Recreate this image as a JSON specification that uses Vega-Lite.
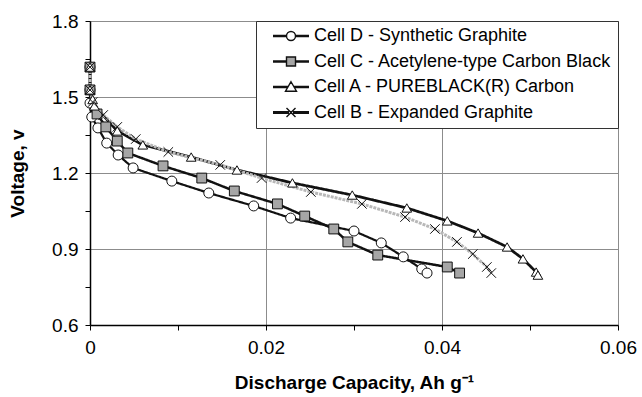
{
  "$schema": "https://vega.github.io/schema/vega-lite/v6.json",
  "width": 528,
  "height": 304,
  "autosize": {"type": "none"},
  "padding": {"left": 90, "top": 21, "right": 24, "bottom": 72},
  "config": {
    "font": "Liberation Sans",
    "view": {"stroke": null},
    "axis": {
      "labelFontSize": 19,
      "labelColor": "black",
      "titleColor": "black",
      "titleFontSize": 19,
      "titleFontWeight": "bold",
      "domainColor": "black",
      "domainWidth": 1.5,
      "tickColor": "black",
      "tickWidth": 1,
      "tickSize": 5,
      "gridColor": "#8c8c8c",
      "gridWidth": 1,
      "labelOverlap": false,
      "labelFlush": false
    }
  },
  "data": {
    "values": [
      {"s": "Cell D - Synthetic Graphite", "x": 0, "v": 1.618},
      {"s": "Cell D - Synthetic Graphite", "x": 0, "v": 1.528},
      {"s": "Cell D - Synthetic Graphite", "x": 0, "v": 1.476},
      {"s": "Cell D - Synthetic Graphite", "x": 0.0002, "v": 1.421},
      {"s": "Cell D - Synthetic Graphite", "x": 0.0009, "v": 1.378},
      {"s": "Cell D - Synthetic Graphite", "x": 0.0019, "v": 1.318},
      {"s": "Cell D - Synthetic Graphite", "x": 0.0032, "v": 1.271},
      {"s": "Cell D - Synthetic Graphite", "x": 0.0049, "v": 1.22},
      {"s": "Cell D - Synthetic Graphite", "x": 0.0093, "v": 1.168},
      {"s": "Cell D - Synthetic Graphite", "x": 0.0135, "v": 1.121},
      {"s": "Cell D - Synthetic Graphite", "x": 0.0186, "v": 1.07},
      {"s": "Cell D - Synthetic Graphite", "x": 0.0228, "v": 1.022},
      {"s": "Cell D - Synthetic Graphite", "x": 0.03, "v": 0.971},
      {"s": "Cell D - Synthetic Graphite", "x": 0.0331, "v": 0.924},
      {"s": "Cell D - Synthetic Graphite", "x": 0.0356, "v": 0.869},
      {"s": "Cell D - Synthetic Graphite", "x": 0.0377, "v": 0.821},
      {"s": "Cell D - Synthetic Graphite", "x": 0.0383, "v": 0.805},
      {"s": "Cell C - Acetylene-type Carbon Black", "x": 0, "v": 1.618},
      {"s": "Cell C - Acetylene-type Carbon Black", "x": 0, "v": 1.528},
      {"s": "Cell C - Acetylene-type Carbon Black", "x": 0.0008, "v": 1.433},
      {"s": "Cell C - Acetylene-type Carbon Black", "x": 0.0018, "v": 1.382},
      {"s": "Cell C - Acetylene-type Carbon Black", "x": 0.0031, "v": 1.326},
      {"s": "Cell C - Acetylene-type Carbon Black", "x": 0.0043, "v": 1.279},
      {"s": "Cell C - Acetylene-type Carbon Black", "x": 0.0083, "v": 1.228},
      {"s": "Cell C - Acetylene-type Carbon Black", "x": 0.0127, "v": 1.18},
      {"s": "Cell C - Acetylene-type Carbon Black", "x": 0.0164, "v": 1.129},
      {"s": "Cell C - Acetylene-type Carbon Black", "x": 0.0213, "v": 1.078},
      {"s": "Cell C - Acetylene-type Carbon Black", "x": 0.0244, "v": 1.03},
      {"s": "Cell C - Acetylene-type Carbon Black", "x": 0.0277, "v": 0.979},
      {"s": "Cell C - Acetylene-type Carbon Black", "x": 0.0293, "v": 0.928},
      {"s": "Cell C - Acetylene-type Carbon Black", "x": 0.0327, "v": 0.876},
      {"s": "Cell C - Acetylene-type Carbon Black", "x": 0.0406, "v": 0.829},
      {"s": "Cell C - Acetylene-type Carbon Black", "x": 0.042, "v": 0.805},
      {"s": "Cell A - PUREBLACK(R) Carbon", "x": 0, "v": 1.618},
      {"s": "Cell A - PUREBLACK(R) Carbon", "x": 0, "v": 1.528},
      {"s": "Cell A - PUREBLACK(R) Carbon", "x": 0.0003, "v": 1.49},
      {"s": "Cell A - PUREBLACK(R) Carbon", "x": 0.0005, "v": 1.465},
      {"s": "Cell A - PUREBLACK(R) Carbon", "x": 0.0031, "v": 1.366},
      {"s": "Cell A - PUREBLACK(R) Carbon", "x": 0.006, "v": 1.311},
      {"s": "Cell A - PUREBLACK(R) Carbon", "x": 0.0115, "v": 1.263},
      {"s": "Cell A - PUREBLACK(R) Carbon", "x": 0.0167, "v": 1.212},
      {"s": "Cell A - PUREBLACK(R) Carbon", "x": 0.023, "v": 1.161},
      {"s": "Cell A - PUREBLACK(R) Carbon", "x": 0.0298, "v": 1.113},
      {"s": "Cell A - PUREBLACK(R) Carbon", "x": 0.036, "v": 1.062},
      {"s": "Cell A - PUREBLACK(R) Carbon", "x": 0.0406, "v": 1.011},
      {"s": "Cell A - PUREBLACK(R) Carbon", "x": 0.0441, "v": 0.963},
      {"s": "Cell A - PUREBLACK(R) Carbon", "x": 0.0474, "v": 0.908},
      {"s": "Cell A - PUREBLACK(R) Carbon", "x": 0.0492, "v": 0.861},
      {"s": "Cell A - PUREBLACK(R) Carbon", "x": 0.0507, "v": 0.809},
      {"s": "Cell A - PUREBLACK(R) Carbon", "x": 0.0509, "v": 0.797},
      {"s": "Cell B - Expanded Graphite", "x": 0, "v": 1.618},
      {"s": "Cell B - Expanded Graphite", "x": 0, "v": 1.528},
      {"s": "Cell B - Expanded Graphite", "x": 0.0003, "v": 1.48},
      {"s": "Cell B - Expanded Graphite", "x": 0.0015, "v": 1.429},
      {"s": "Cell B - Expanded Graphite", "x": 0.0031, "v": 1.382},
      {"s": "Cell B - Expanded Graphite", "x": 0.0052, "v": 1.334},
      {"s": "Cell B - Expanded Graphite", "x": 0.0089, "v": 1.283},
      {"s": "Cell B - Expanded Graphite", "x": 0.0148, "v": 1.232},
      {"s": "Cell B - Expanded Graphite", "x": 0.0195, "v": 1.18},
      {"s": "Cell B - Expanded Graphite", "x": 0.0251, "v": 1.125},
      {"s": "Cell B - Expanded Graphite", "x": 0.0309, "v": 1.078},
      {"s": "Cell B - Expanded Graphite", "x": 0.0358, "v": 1.026},
      {"s": "Cell B - Expanded Graphite", "x": 0.0392, "v": 0.979},
      {"s": "Cell B - Expanded Graphite", "x": 0.0417, "v": 0.928},
      {"s": "Cell B - Expanded Graphite", "x": 0.0435, "v": 0.88},
      {"s": "Cell B - Expanded Graphite", "x": 0.0451, "v": 0.829},
      {"s": "Cell B - Expanded Graphite", "x": 0.0456, "v": 0.805}
    ]
  },
  "encoding": {
    "x": {
      "field": "x",
      "type": "quantitative",
      "scale": {"domain": [0, 0.06], "nice": false, "zero": false},
      "axis": {
        "title": "Discharge Capacity, Ah g⁻¹",
        "values": [0, 0.01, 0.02, 0.03, 0.04, 0.05, 0.06],
        "labelExpr": "round(datum.value * 100) % 2 == 0 ? format(datum.value, '~g') : ''",
        "gridOpacity": {"condition": {"test": "round(datum.value * 100) % 2 == 0", "value": 1}, "value": 0},
        "labelPadding": 8,
        "titlePadding": 16
      }
    },
    "y": {
      "field": "v",
      "type": "quantitative",
      "scale": {"domain": [0.6, 1.8], "nice": false, "zero": false},
      "axis": {
        "title": "Voltage, v",
        "values": [0.6, 0.75, 0.9, 1.05, 1.2, 1.35, 1.5, 1.65, 1.8],
        "labelExpr": "round(datum.value / 0.15) % 2 == 0 ? format(datum.value, '.1f') : ''",
        "gridOpacity": {"condition": {"test": "round(datum.value / 0.15) % 2 == 0", "value": 1}, "value": 0},
        "labelPadding": 7,
        "titlePadding": 24
      }
    }
  },
  "resolve": {"scale": {"shape": "independent", "fill": "independent", "stroke": "independent"}},
  "layer": [
    {
      "mark": {"type": "line", "strokeCap": "butt"},
      "encoding": {
        "detail": {"field": "s"},
        "order": {"field": "v", "sort": "descending"},
        "stroke": {
          "field": "s",
          "type": "nominal",
          "scale": {
            "domain": ["Cell D - Synthetic Graphite", "Cell C - Acetylene-type Carbon Black", "Cell A - PUREBLACK(R) Carbon", "Cell B - Expanded Graphite"],
            "range": ["#111111", "#111111", "#111111", "#b8b8b8"]
          },
          "legend": null
        },
        "strokeWidth": {
          "field": "s",
          "type": "nominal",
          "scale": {
            "domain": ["Cell D - Synthetic Graphite", "Cell C - Acetylene-type Carbon Black", "Cell A - PUREBLACK(R) Carbon", "Cell B - Expanded Graphite"],
            "range": [2.2, 3, 3, 3.8]
          },
          "legend": null
        },
        "strokeDash": {
          "field": "s",
          "type": "nominal",
          "scale": {
            "domain": ["Cell D - Synthetic Graphite", "Cell C - Acetylene-type Carbon Black", "Cell A - PUREBLACK(R) Carbon", "Cell B - Expanded Graphite"],
            "range": [[1, 0], [1, 0], [1, 0], [3, 1]]
          },
          "legend": null
        }
      }
    },
    {
      "mark": {"type": "point", "filled": true, "stroke": "#111111", "strokeWidth": 1, "opacity": 1},
      "encoding": {
        "shape": {
          "field": "s",
          "type": "nominal",
          "scale": {
            "domain": ["Cell D - Synthetic Graphite", "Cell C - Acetylene-type Carbon Black", "Cell A - PUREBLACK(R) Carbon", "Cell B - Expanded Graphite"],
            "range": ["circle", "square", "triangle-up", "M-1,-1L1,1M-1,1L1,-1"]
          },
          "legend": null
        },
        "fill": {
          "field": "s",
          "type": "nominal",
          "scale": {
            "domain": ["Cell D - Synthetic Graphite", "Cell C - Acetylene-type Carbon Black", "Cell A - PUREBLACK(R) Carbon", "Cell B - Expanded Graphite"],
            "range": ["white", "#a6a6a6", "white", "transparent"]
          },
          "legend": null
        },
        "size": {
          "field": "s",
          "type": "nominal",
          "scale": {
            "domain": ["Cell D - Synthetic Graphite", "Cell C - Acetylene-type Carbon Black", "Cell A - PUREBLACK(R) Carbon", "Cell B - Expanded Graphite"],
            "range": [100, 90, 140, 100]
          },
          "legend": null
        }
      }
    },
    {
      "mark": {"type": "point", "filled": false, "strokeWidth": 1.4, "opacity": 0},
      "encoding": {
        "shape": {
          "field": "s",
          "type": "nominal",
          "scale": {
            "domain": ["Cell D - Synthetic Graphite", "Cell C - Acetylene-type Carbon Black", "Cell A - PUREBLACK(R) Carbon", "Cell B - Expanded Graphite"],
            "range": [
              "M-2.4,-0.12H0.3M-2.4,0.12H0.3M2.1,-0.12H4.8M2.1,0.12H4.8M2.1,0C2.1,0.497 1.697,0.9 1.2,0.9C0.703,0.9 0.3,0.497 0.3,0C0.3,-0.497 0.703,-0.9 1.2,-0.9C1.697,-0.9 2.1,-0.497 2.1,0Z",
              "M-2.4,-0.12H0.3M-2.4,0.12H0.3M2.1,-0.12H4.8M2.1,0.12H4.8M0.3,-0.9H2.1V0.9H0.3Z",
              "M-2.4,-0.12H0.6M-2.4,0.12H0.6M1.8,-0.12H4.8M1.8,0.12H4.8M1.2,-1.05L2.3,0.85H0.1Z",
              "M-2.4,-0.15H0.8M-2.4,0.15H0.8M1.6,-0.15H4.8M1.6,0.15H4.8M0.3,-0.9L2.1,0.9M0.3,0.9L2.1,-0.9"
            ]
          },
          "legend": {
            "title": null,
            "orient": "top-right",
            "offset": 0,
            "padding": 6,
            "rowPadding": 7.5,
            "fillColor": "white",
            "strokeColor": "#333333",
            "labelFontSize": 18,
            "labelColor": "black",
            "labelLimit": 400,
            "symbolSize": 100,
            "symbolOpacity": 1,
            "symbolStrokeWidth": 1.4,
            "symbolOffset": 14,
            "labelOffset": 20
          }
        },
        "fill": {
          "field": "s",
          "type": "nominal",
          "scale": {
            "domain": ["Cell D - Synthetic Graphite", "Cell C - Acetylene-type Carbon Black", "Cell A - PUREBLACK(R) Carbon", "Cell B - Expanded Graphite"],
            "range": ["white", "#a6a6a6", "white", "transparent"]
          }
        },
        "stroke": {
          "field": "s",
          "type": "nominal",
          "scale": {
            "domain": ["Cell D - Synthetic Graphite", "Cell C - Acetylene-type Carbon Black", "Cell A - PUREBLACK(R) Carbon", "Cell B - Expanded Graphite"],
            "range": ["#111111", "#111111", "#111111", "#111111"]
          }
        }
      }
    }
  ]
}
